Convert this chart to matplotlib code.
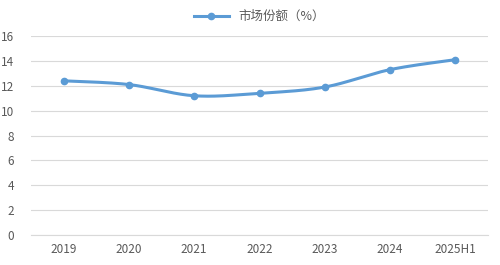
import numpy as np
from matplotlib import pyplot as plt

plt.rcParams['font.family'] = ['Noto Sans CJK SC', 'DejaVu Sans']

years = ["2019", "2020", "2021", "2022", "2023", "2024", "2025H1"]
share = [12.4, 12.1, 11.2, 11.4, 11.9, 13.3, 14.1]
yticks = [0, 2, 4, 6, 8, 10, 12, 14, 16]
line_color = "#5B9BD5"


def smooth(xs, ys, n=30):
    """Catmull-Rom curve through the points (like Excel smoothed line)"""
    px = [xs[0]] + list(xs) + [xs[-1]]
    py = [ys[0]] + list(ys) + [ys[-1]]
    outx, outy = [], []
    for i in range(1, len(px) - 2):
        t = np.linspace(0, 1, n)
        for p, out in ((px, outx), (py, outy)):
            p0, p1, p2, p3 = p[i - 1], p[i], p[i + 1], p[i + 2]
            out.extend(0.5 * ((2 * p1) + (-p0 + p2) * t
                              + (2 * p0 - 5 * p1 + 4 * p2 - p3) * t ** 2
                              + (-p0 + 3 * p1 - 3 * p2 + p3) * t ** 3))
    return outx, outy


fig = plt.figure(figsize=(5, 2.65), dpi=100)
ax = fig.add_axes([0.062, 0.113, 0.914, 0.751])

x = np.arange(len(years))
sx, sy = smooth(x, share)
ax.plot(sx, sy, color=line_color, lw=2.2, solid_capstyle="round", zorder=3)
ax.plot(x, share, "o", color=line_color, ms=4.5, zorder=4)
ax.plot([], [], color=line_color, lw=2.2, marker="o", ms=4.5, label="市场份额（%）")

ax.set_xlim(-0.5, len(years) - 0.5)
ax.set_ylim(0, 16)
ax.set_yticks(yticks)
ax.set_xticks(x)
ax.set_xticklabels(years)
ax.grid(axis="y", color="#D9D9D9", lw=0.8)
ax.set_axisbelow(True)
for s in ["top", "right", "left"]:
    ax.spines[s].set_visible(False)
ax.spines["bottom"].set_color("#D9D9D9")
ax.tick_params(length=0, labelsize=8.5, colors="#595959", pad=6)
ax.tick_params(axis="y", pad=12)

leg = ax.legend(loc="lower center", bbox_to_anchor=(0.5, 1.04), frameon=False,
                fontsize=9, handlelength=2.8, borderaxespad=0)
for t in leg.get_texts():
    t.set_color("#595959")

fig.savefig("out.png", dpi=100)
